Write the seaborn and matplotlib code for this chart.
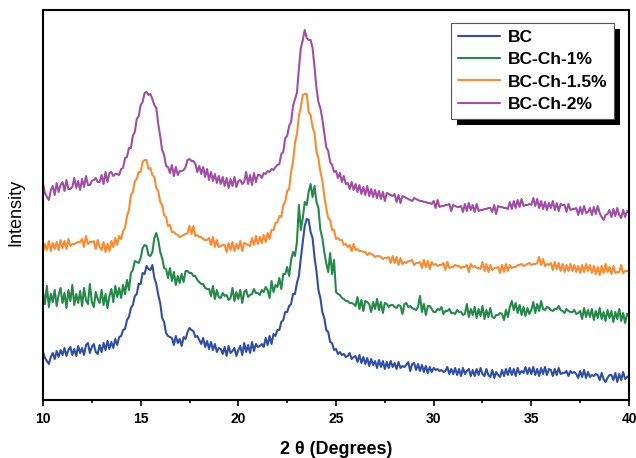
import numpy as np
import pandas as pd
import matplotlib
matplotlib.use("Agg")
import matplotlib.pyplot as plt
import matplotlib.patheffects as pe
from matplotlib.ticker import MultipleLocator
import seaborn as sns

# 2-theta grid: 10.0 .. 40.0 deg, 0.1 deg step (one row below = one degree)
TWO_THETA = np.round(np.linspace(10, 40, 301), 1)

BC = [
    48, 42, 39, 36, 43, 47, 41, 49, 43, 50,
    45, 52, 44, 50, 53, 45, 51, 44, 54, 47,
    52, 45, 55, 57, 47, 53, 56, 48, 46, 55,
    48, 57, 50, 59, 51, 58, 52, 61, 55, 63,
    64, 70, 71, 80, 83, 92, 95, 104, 106, 116,
    116, 127, 126, 134, 131, 130, 135, 122, 116, 105,
    97, 82, 78, 67, 64, 63, 62, 55, 64, 57,
    61, 54, 63, 61, 68, 72, 70, 69, 63, 64,
    60, 56, 62, 53, 59, 51, 58, 50, 56, 48,
    52, 51, 46, 53, 44, 54, 47, 49, 52, 44,
    50, 54, 45, 57, 48, 55, 47, 58, 49, 56,
    53, 54, 56, 53, 62, 55, 64, 56, 66, 64,
    70, 70, 78, 80, 88, 88, 94, 96, 106, 106,
    117, 124, 142, 158, 174, 181, 180, 168, 162, 143,
    129, 110, 102, 88, 82, 70, 68, 58, 57, 50,
    51, 46, 48, 45, 46, 43, 44, 47, 41, 43,
    44, 38, 45, 37, 43, 36, 42, 34, 41, 35,
    39, 32, 40, 33, 39, 31, 38, 32, 39, 33,
    37, 31, 38, 32, 34, 33, 35, 38, 29, 36,
    37, 30, 36, 29, 35, 28, 34, 27, 33, 28,
    32, 30, 31, 29, 30, 28, 29, 33, 26, 31,
    26, 32, 25, 31, 24, 32, 26, 29, 31, 24,
    30, 24, 31, 25, 32, 26, 24, 31, 25, 23,
    30, 22, 28, 25, 23, 30, 24, 31, 25, 32,
    25, 31, 24, 32, 26, 29, 27, 33, 26, 32,
    26, 33, 25, 31, 24, 32, 26, 33, 25, 31,
    30, 24, 31, 25, 32, 26, 27, 27, 29, 24,
    29, 27, 28, 26, 22, 29, 23, 30, 22, 28,
    23, 25, 24, 26, 25, 20, 27, 21, 18, 22,
    25, 25, 20, 27, 18, 26, 20, 28, 21, 23,
    24,
]

BC_CH_1 = [
    108, 96, 114, 93, 106, 98, 110, 94, 105, 112,
    97, 107, 92, 110, 99, 115, 95, 106, 97, 109,
    94, 112, 100, 96, 116, 98, 93, 108, 101, 97,
    110, 95, 106, 92, 104, 111, 98, 114, 103, 112,
    102, 115, 106, 120, 110, 127, 130, 139, 138, 137,
    142, 152, 155, 154, 145, 144, 148, 162, 167, 160,
    148, 142, 132, 131, 122, 132, 119, 128, 115, 124,
    117, 126, 118, 129, 129, 127, 127, 124, 124, 120,
    118, 116, 116, 112, 111, 111, 104, 114, 101, 110,
    103, 102, 107, 104, 105, 100, 102, 112, 99, 108,
    101, 110, 97, 108, 110, 103, 105, 106, 111, 107,
    107, 105, 110, 108, 113, 110, 102, 119, 108, 115,
    113, 122, 111, 126, 126, 133, 124, 140, 148, 144,
    158, 195, 170, 182, 198, 195, 208, 216, 203, 214,
    198, 192, 170, 162, 148, 137, 128, 147, 126, 140,
    108, 106, 105, 102, 101, 99, 99, 97, 97, 96,
    94, 103, 91, 100, 89, 99, 98, 96, 88, 98,
    91, 101, 90, 98, 87, 97, 96, 93, 95, 95,
    93, 92, 95, 94, 86, 96, 97, 93, 94, 92,
    91, 90, 93, 104, 88, 96, 85, 94, 94, 91,
    88, 88, 91, 90, 93, 86, 89, 89, 91, 87,
    87, 86, 90, 88, 88, 85, 86, 96, 83, 91,
    85, 93, 82, 91, 84, 94, 81, 90, 83, 92,
    83, 82, 85, 85, 87, 86, 80, 90, 83, 93,
    99, 90, 97, 87, 95, 85, 93, 84, 92, 86,
    90, 98, 87, 96, 89, 99, 91, 90, 93, 92,
    90, 89, 91, 91, 94, 90, 89, 87, 91, 89,
    88, 88, 90, 86, 87, 89, 81, 92, 83, 90,
    83, 91, 80, 89, 82, 92, 81, 88, 79, 90,
    82, 89, 78, 88, 81, 91, 79, 87, 77, 86,
    84,
]

BC_CH_15 = [
    148, 156, 150, 159, 149, 157, 151, 158, 150, 160,
    152, 159, 151, 161, 154, 156, 156, 157, 158, 158,
    161, 153, 164, 156, 158, 158, 159, 151, 160, 153,
    150, 158, 148, 156, 149, 159, 153, 162, 155, 164,
    161, 169, 172, 184, 190, 205, 208, 219, 221, 228,
    228, 238, 240, 240, 231, 232, 225, 223, 212, 209,
    198, 195, 185, 183, 174, 175, 168, 168, 166, 165,
    163, 164, 165, 166, 167, 174, 166, 174, 164, 165,
    163, 163, 161, 160, 160, 162, 155, 163, 153, 160,
    153, 154, 155, 155, 148, 157, 150, 158, 149, 156,
    151, 159, 149, 157, 156, 155, 154, 162, 155, 164,
    156, 163, 157, 165, 158, 167, 161, 170, 170, 177,
    178, 184, 183, 195, 198, 209, 211, 228, 238, 257,
    266, 284, 293, 305, 306, 306, 288, 285, 273, 267,
    248, 242, 228, 220, 204, 192, 182, 180, 170, 170,
    161, 162, 160, 160, 155, 156, 153, 155, 149, 156,
    150, 151, 149, 149, 148, 148, 145, 147, 146, 145,
    143, 144, 144, 143, 141, 142, 142, 143, 137, 144,
    137, 143, 135, 142, 136, 138, 137, 139, 139, 140,
    135, 137, 137, 138, 132, 140, 133, 139, 131, 138,
    135, 136, 134, 135, 135, 137, 130, 138, 132, 133,
    133, 135, 134, 134, 132, 133, 133, 135, 128, 136,
    133, 134, 132, 132, 131, 138, 129, 136, 128, 135,
    130, 132, 132, 133, 127, 135, 128, 136, 129, 135,
    132, 133, 133, 135, 135, 136, 134, 135, 136, 137,
    135, 136, 136, 137, 143, 135, 141, 134, 136, 135,
    137, 130, 138, 131, 137, 129, 136, 128, 135, 129,
    136, 129, 135, 128, 134, 127, 135, 128, 136, 129,
    135, 127, 134, 126, 133, 125, 134, 127, 136, 128,
    133, 126, 134, 127, 128, 128, 135, 127, 129, 129,
    130,
]

BC_CH_2 = [
    216, 207, 203, 200, 210, 214, 205, 217, 208, 215,
    218, 209, 220, 211, 211, 213, 222, 212, 219, 210,
    221, 213, 224, 215, 215, 219, 220, 222, 218, 218,
    225, 216, 228, 218, 227, 228, 224, 226, 226, 225,
    231, 232, 242, 243, 252, 252, 264, 268, 281, 284,
    295, 298, 307, 308, 305, 306, 301, 295, 292, 276,
    264, 250, 245, 234, 233, 227, 235, 224, 233, 225,
    229, 229, 230, 233, 240, 241, 239, 239, 236, 228,
    234, 226, 233, 223, 231, 220, 228, 219, 226, 217,
    224, 216, 223, 214, 222, 212, 221, 214, 223, 213,
    219, 220, 216, 218, 228, 216, 225, 215, 227, 218,
    225, 225, 222, 227, 226, 229, 228, 231, 230, 233,
    235, 236, 246, 248, 262, 264, 274, 278, 294, 301,
    307, 331, 352, 360, 370, 362, 360, 360, 352, 333,
    312, 298, 292, 281, 267, 253, 249, 238, 235, 228,
    229, 222, 227, 218, 224, 216, 217, 211, 218, 210,
    216, 208, 215, 206, 213, 205, 214, 204, 211, 203,
    210, 202, 209, 201, 208, 199, 207, 206, 205, 204,
    206, 198, 205, 197, 204, 203, 202, 201, 200, 199,
    202, 201, 200, 199, 199, 198, 198, 197, 197, 196,
    199, 192, 200, 193, 194, 194, 195, 195, 196, 189,
    195, 194, 193, 193, 194, 188, 196, 189, 197, 190,
    195, 188, 196, 189, 190, 190, 191, 191, 192, 192,
    188, 195, 186, 194, 193, 193, 192, 192, 191, 198,
    191, 199, 192, 200, 193, 201, 194, 195, 195, 196,
    195, 202, 194, 201, 192, 199, 191, 198, 190, 197,
    192, 199, 190, 197, 189, 196, 195, 195, 188, 196,
    190, 191, 191, 192, 185, 193, 186, 194, 187, 188,
    192, 185, 193, 186, 194, 187, 183, 180, 185, 186,
    190, 183, 191, 184, 192, 185, 182, 190, 183, 189,
    187,
]

SERIES = {
    "BC": BC,
    "BC-Ch-1%": BC_CH_1,
    "BC-Ch-1.5%": BC_CH_15,
    "BC-Ch-2%": BC_CH_2,
}

COLORS = {
    "BC": "#2f4ea6",
    "BC-Ch-1%": "#25894a",
    "BC-Ch-1.5%": "#fb8a30",
    "BC-Ch-2%": "#a04fa5",
}

sns.set_theme(style="ticks")
plt.rcParams["font.family"] = ["Liberation Sans", "DejaVu Sans"]
plt.rcParams["text.color"] = "black"
plt.rcParams["axes.labelcolor"] = "black"
plt.rcParams["xtick.color"] = "black"
plt.rcParams["ytick.color"] = "black"


def build_frame() -> pd.DataFrame:
    frames = []
    for name, values in SERIES.items():
        frames.append(pd.DataFrame({"two_theta": TWO_THETA, "intensity": values, "sample": name}))
    return pd.concat(frames, ignore_index=True)


def main() -> None:
    df = build_frame()

    fig = plt.figure(figsize=(6.36, 4.58), dpi=100)
    ax = fig.add_axes([43 / 636, 58 / 458, 586 / 636, 390 / 458])

    sns.lineplot(data=df, x="two_theta", y="intensity", hue="sample", palette=COLORS,
                 linewidth=1.5, legend=False, ax=ax)

    ax.set_xlim(10, 40)
    ax.set_ylim(0, 390)
    ax.xaxis.set_major_locator(MultipleLocator(5))
    ax.xaxis.set_minor_locator(MultipleLocator(2.5))
    ax.tick_params(axis="x", which="major", direction="out", length=4.5, width=1.2,
                   labelsize=10, pad=4)
    ax.tick_params(axis="x", which="minor", direction="out", length=2.5, width=1.2)
    for lbl in ax.get_xticklabels():
        lbl.set_fontweight("bold")
    ax.set_yticks([])
    for spine in ax.spines.values():
        spine.set_visible(True)
        spine.set_linewidth(1.5)
        spine.set_color("black")

    ax.set_xlabel("2 θ (Degrees)", fontsize=13, fontweight="bold")
    ax.xaxis.set_label_coords(0.5, -0.105)
    ax.set_ylabel("Intensity", fontsize=13)
    ax.yaxis.set_label_coords(-0.031, 0.48)

    handles = [plt.Line2D([], [], color=COLORS[name], linewidth=1.5) for name in SERIES]
    leg = ax.legend(handles, list(SERIES.keys()), loc="upper right",
                    bbox_to_anchor=(0.974, 0.967), borderaxespad=0,
                    frameon=True, fancybox=False, framealpha=1,
                    prop={"weight": "bold", "size": 12.5},
                    handlelength=2.4, handletextpad=0.45, labelspacing=0.42,
                    borderpad=0.38)
    frame = leg.get_frame()
    frame.set_edgecolor("#555555")
    frame.set_linewidth(0.8)
    frame.set_path_effects([
        pe.SimplePatchShadow(offset=(4.3, -4.3), shadow_rgbFace="black", alpha=1.0),
        pe.Normal(),
    ])

    fig.savefig("out.png", dpi=100)
    plt.close(fig)


if __name__ == "__main__":
    main()
